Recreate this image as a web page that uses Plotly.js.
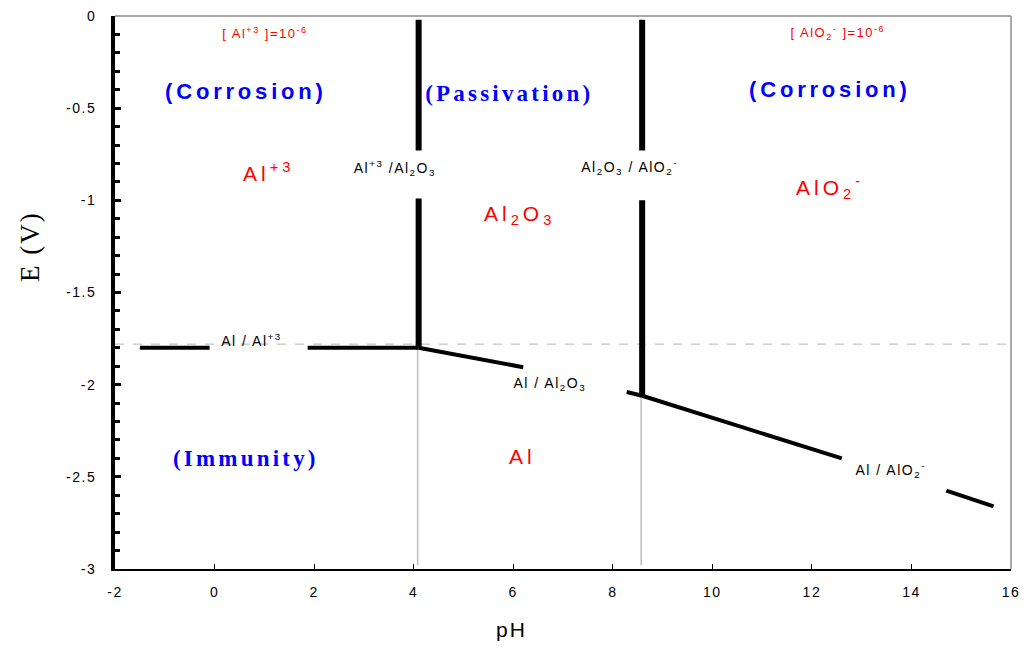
<!DOCTYPE html>
<html>
<head>
<meta charset="utf-8">
<script src="https://cdn.plot.ly/plotly-3.0.1.min.js"></script>
<style>
  html, body { margin: 0; padding: 0; background: #ffffff; }
  #chart { width: 1026px; height: 648px; }
</style>
</head>
<body>
<div id="chart"></div>
<script>
// ---- Boundary lines (pH, E in V); null = gap left for the label ----
const alAl3_pH   = [-1.5, -0.1, null, 1.87, 4.1];
const alAl3_E    = [-1.80, -1.80, null, -1.80, -1.80];

const al3Al2o3_pH = [4.1, 4.1, null, 4.1, 4.1];
const al3Al2o3_E  = [-0.02, -0.73, null, -0.99, -1.80];

const al2o3Alo2_pH = [8.59, 8.59, null, 8.59, 8.59];
const al2o3Alo2_E  = [-0.02, -0.73, null, -1.00, -2.06];

const alAl2o3_pH = [4.1, 6.2, null, 8.28, 8.59];
const alAl2o3_E  = [-1.80, -1.905, null, -2.04, -2.06];

const alAlo2_pH  = [8.59, 12.6, null, 14.7, 15.65];
const alAlo2_E   = [-2.06, -2.40, null, -2.575, -2.66];

// thin guide lines
const guide1_pH = [4.08, 4.08];
const guide1_E  = [-1.80, -2.98];
const guide2_pH = [8.57, 8.57];
const guide2_E  = [-2.06, -2.98];
const dash_pH   = [-2, 16];
const dash_E    = [-1.78, -1.78];

// ---- Labels ----
const concLabels   = ['[ Al<sup>+3</sup> ]=10<sup>-6</sup>', '[ AlO<sub>2</sub><sup>-</sup> ]=10<sup>-6</sup>'];
const concX        = [1.01, 12.52];
const concY        = [-0.092, -0.092];

const regimeLabels = ['(Corrosion)', '(Passivation)', '(Corrosion)', '(Immunity)'];
const regimeX      = [0.63, 5.93, 12.36, 0.63];
const regimeY      = [-0.407, -0.418, -0.396, -2.403];

const speciesLabels = ['Al<sup>+3</sup>', 'Al<sub>2</sub>O<sub>3</sub>', 'AlO<sub>2</sub><sup>-</sup>', 'Al'];
const speciesX      = [1.09, 6.12, 12.36, 6.18];
const speciesY      = [-0.846, -1.08, -0.933, -2.39];

const boundaryLabels = ['Al<sup>+3</sup> /Al<sub>2</sub>O<sub>3</sub>', 'Al<sub>2</sub>O<sub>3</sub> / AlO<sub>2</sub><sup>-</sup>',
                        'Al / Al<sup>+3</sup>', 'Al / Al<sub>2</sub>O<sub>3</sub>', 'Al / AlO<sub>2</sub><sup>-</sup>'];
const boundaryX      = [3.62, 8.33, 0.75, 6.74, 13.57];
const boundaryY      = [-0.825, -0.82, -1.758, -1.996, -2.463];

const xTicks = [-2, 0, 2, 4, 6, 8, 10, 12, 14, 16];
const yTicks = [0, -0.5, -1, -1.5, -2, -2.5, -3];
const xTitle = 'pH';
const yTitle = 'E (V)';

function line(x, y, w, color, dash) {
  return { type: 'scatter', mode: 'lines', x: x, y: y, connectgaps: false,
           line: { color: color, width: w, dash: dash || 'solid' },
           hoverinfo: 'skip', showlegend: false };
}

const traces = [
  line(dash_pH, dash_E, 1, '#b4b4b4', 'dash'),
  line(guide1_pH, guide1_E, 1.5, '#bdbdbd'),
  line(guide2_pH, guide2_E, 1.5, '#bdbdbd'),
  line(alAl3_pH, alAl3_E, 4, '#000000'),
  line(alAl2o3_pH, alAl2o3_E, 4, '#000000'),
  line(alAlo2_pH, alAlo2_E, 4, '#000000'),
  line(al3Al2o3_pH, al3Al2o3_E, 6, '#000000'),
  line(al2o3Alo2_pH, al2o3Alo2_E, 6, '#000000')
];

const annotations = [];
concLabels.forEach((t, i) => annotations.push({ x: concX[i], y: concY[i], text: t, showarrow: false,
  font: { family: 'Liberation Sans, Arial', size: 13, color: '#ff0000' }, xanchor: 'center', yanchor: 'middle' }));
regimeLabels.forEach((t, i) => {
  const serif = (t !== '(Corrosion)');
  annotations.push({ x: regimeX[i], y: regimeY[i], text: '<b>' + t + '</b>', showarrow: false,
    font: { family: serif ? 'Liberation Serif, Times New Roman' : 'Liberation Sans, Arial', size: serif ? 23 : 22, color: '#0000ff' },
    xanchor: 'center', yanchor: 'middle' });
});
speciesLabels.forEach((t, i) => annotations.push({ x: speciesX[i], y: speciesY[i], text: t, showarrow: false,
  font: { family: 'Liberation Sans, Arial', size: 21, color: '#ff0000' }, xanchor: 'center', yanchor: 'middle' }));
boundaryLabels.forEach((t, i) => annotations.push({ x: boundaryX[i], y: boundaryY[i], text: t, showarrow: false,
  font: { family: 'Liberation Sans, Arial', size: 14, color: '#000000' }, xanchor: 'center', yanchor: 'middle' }));
// axis titles placed as in the reference (off-centre)
annotations.push({ xref: 'paper', yref: 'paper', x: -0.0949, y: 0.584, text: yTitle, textangle: -90, showarrow: false,
  font: { family: 'Liberation Serif, Times New Roman', size: 27, color: '#000000' }, xanchor: 'center', yanchor: 'middle' });
annotations.push({ xref: 'paper', yref: 'paper', x: 0.443, y: -0.110, text: xTitle, showarrow: false,
  font: { family: 'Liberation Sans, Arial', size: 21, color: '#000000' }, xanchor: 'center', yanchor: 'middle' });

const layout = {
  width: 1026, height: 648,
  margin: { l: 115, r: 15, t: 16, b: 79 },
  paper_bgcolor: '#ffffff', plot_bgcolor: '#ffffff',
  showlegend: false,
  xaxis: {
    range: [-2, 16], tickvals: xTicks, ticktext: xTicks.map(String),
    showgrid: false, zeroline: false,
    showline: true, linecolor: '#000000', linewidth: 2,
    ticks: 'inside', ticklen: 5, tickwidth: 1, tickcolor: '#000000',
    ticklabelstandoff: 9,
    tickfont: { family: 'Liberation Sans, Arial', size: 14, color: '#000000' }
  },
  yaxis: {
    range: [-3, 0], tickvals: yTicks, ticktext: yTicks.map(String),
    showgrid: false, zeroline: false,
    showline: true, linecolor: '#000000', linewidth: 4,
    ticks: 'inside', ticklen: 6, tickwidth: 3, tickcolor: '#000000',
    minor: { dtick: 0.1, ticks: 'inside', ticklen: 5, tickwidth: 3, tickcolor: '#000000', showgrid: false },
    ticklabelstandoff: 12,
    tickfont: { family: 'Liberation Sans, Arial', size: 14, color: '#000000' }
  },
  shapes: [
    { type: 'line', xref: 'paper', yref: 'paper', x0: 0, x1: 1, y0: 1, y1: 1, line: { color: '#8c8c8c', width: 1.5 } },
    { type: 'line', xref: 'paper', yref: 'paper', x0: 1, x1: 1, y0: 0, y1: 1, line: { color: '#8c8c8c', width: 1.5 } }
  ],
  annotations: annotations
};

Plotly.newPlot('chart', traces, layout, { displayModeBar: false, staticPlot: true }).then(function (gd) {
  gd.querySelectorAll('.annotation-text').forEach(function (el) {
    const txt = el.textContent;
    const fs = parseFloat(el.style.fontSize || '0');
    let sp = '1.5px';
    if (txt.indexOf('Corrosion') >= 0) sp = '3.8px';
    else if (txt.indexOf('Passivation') >= 0 || txt.indexOf('Immunity') >= 0) sp = '3.2px';
    else if (txt === yTitle) sp = '2px';
    else if (txt === xTitle) sp = '2px';
    else if (fs > 18) sp = '4px';
    el.style.letterSpacing = sp;
  });
  gd.querySelectorAll('.xtick text, .ytick text').forEach(function (el) { el.style.letterSpacing = '1.5px'; });
});
</script>
</body>
</html>
